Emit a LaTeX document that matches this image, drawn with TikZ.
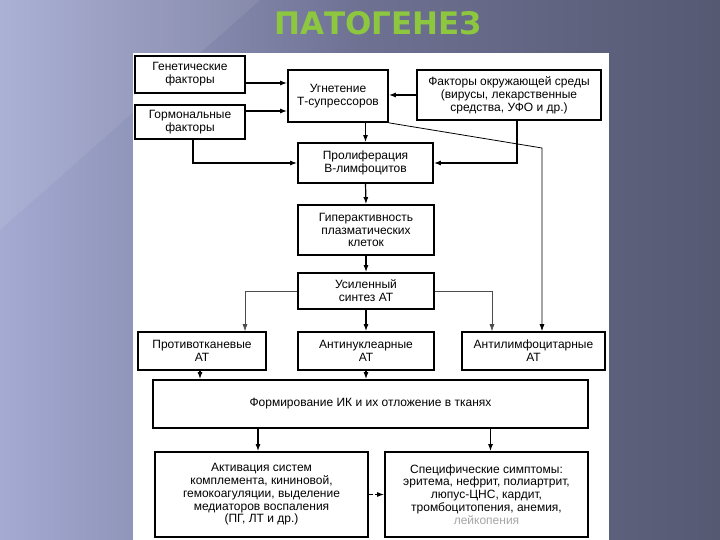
\documentclass[tikz,border=0pt]{standalone}
\usepackage{fontspec}
\setmainfont{Liberation Sans}
\newfontfamily\titlefont{DejaVu Sans}
\usetikzlibrary{arrows.meta}
\definecolor{bgleft}{RGB}{164,170,210}
\definecolor{bgmid}{RGB}{110,113,146}
\definecolor{bgright}{RGB}{86,89,114}
\definecolor{titlegreen}{RGB}{141,198,63}
\begin{document}
\begin{tikzpicture}[x=1pt,y=-1pt,
  bx/.style n args={2}{draw, line width=1.7pt, fill=white, inner sep=0pt,
    minimum width=#1, minimum height=#2, align=center,
    font=\fontsize{12}{12.8}\selectfont},
  arr/.style={line width=1.2pt, -{Latex[length=7pt,width=5pt]}},
  thinarr/.style={line width=0.6pt, draw=black!70, -{Latex[length=7pt,width=5pt]}}]
\useasboundingbox (0,0) rectangle (720,540);
% background
\shade[left color=bgleft, right color=bgright, middle color=bgmid] (0,0) rectangle (720,540);
\fill[white, opacity=0.08] (0,0) -- (260,0) -- (0,230) -- cycle;
\fill[white] (133,53) rectangle (609,540);
% title
\node[anchor=base, text=titlegreen, font=\titlefont\bfseries\fontsize{31}{31}\selectfont] (title) at (378,35) {ПАТОГЕНЕЗ};
% boxes
\node[bx={110pt}{37pt}] (gen) at (190,74.5) {Генетические\\факторы};
\node[bx={110pt}{34pt}] (horm) at (190,122) {Гормональные\\факторы};
\node[bx={100pt}{52pt}] (ugn) at (338,96) {Угнетение\\Т-супрессоров};
\node[bx={184pt}{50pt}] (env) at (509,95) {Факторы окружающей среды\\(вирусы, лекарственные\\средства, УФО и др.)};
\node[bx={135pt}{40pt}] (prol) at (365.5,163) {Пролиферация\\В-лимфоцитов};
\node[bx={136pt}{50pt}] (hyper) at (366,230) {Гиперактивность\\плазматических\\клеток};
\node[bx={136pt}{36pt}] (synth) at (366,291) {Усиленный\\синтез АТ};
\node[bx={128pt}{38pt}] (prot) at (202,351) {Противотканевые\\АТ};
\node[bx={136pt}{38pt}] (nucl) at (366,351) {Антинуклеарные\\АТ};
\node[bx={143pt}{38pt}] (lymph) at (533.5,351) {Антилимфоцитарные\\АТ};
\node[bx={435pt}{48pt}] (form) at (370.5,404) {Формирование ИК и их отложение в тканях};
\node[bx={213pt}{85pt}] (act) at (261.5,494.5) {Активация систем\\комплемента, кининовой,\\гемокоагуляции, выделение\\медиаторов воспаления\\(ПГ, ЛТ и др.)};
\node[bx={203pt}{85pt}] (spec) at (486.5,494.5) {Специфические симптомы:\\эритема, нефрит, полиартрит,\\люпус-ЦНС, кардит,\\тромбоцитопения, анемия,\\\textcolor{black!35}{лейкопения}};
% connectors
\draw[arr] ([yshift=-8.5]gen.east) -- ([yshift=-8.5]gen.east -| ugn.west);
\draw[arr] ([yshift=11]horm.east) -- ([yshift=11]horm.east -| ugn.west);
\draw[arr] ([xshift=3]horm.south) |- (prol.west);
\draw[arr] (ugn.south -| prol.north) -- (prol.north);
\draw[arr] (env.west) -- (env.west -| ugn.east);
\draw[arr] ([xshift=8]env.south) |- (prol.east);
\coordinate (bend) at (542,148);
\draw[line width=0.8pt, -{Latex[length=7pt,width=5pt]}] (ugn.south east) -- (bend) -- (bend |- lymph.north);
\draw[arr] (prol.south) -- (hyper.north);
\draw[arr] (hyper.south) -- (synth.north);
\draw[arr] (synth.south) -- (nucl.north);
\draw[thinarr] (synth.west) -| ([xshift=43]prot.north);
\draw[thinarr] (synth.east) -| ([xshift=-41.5]lymph.north);
\draw[arr] ([xshift=-2]prot.south) -- ([xshift=-2]prot.south |- form.north);
\draw[arr] (nucl.south) -- (nucl.south |- form.north);
\draw[arr] ([xshift=-3.5]act.north |- form.south) -- ([xshift=-3.5]act.north);
\draw[arr] ([xshift=4]spec.north |- form.south) -- ([xshift=4]spec.north);
\draw[arr, dashed, dash pattern=on 4pt off 2pt] (act.east) -- (spec.west);
\end{tikzpicture}
\end{document}
